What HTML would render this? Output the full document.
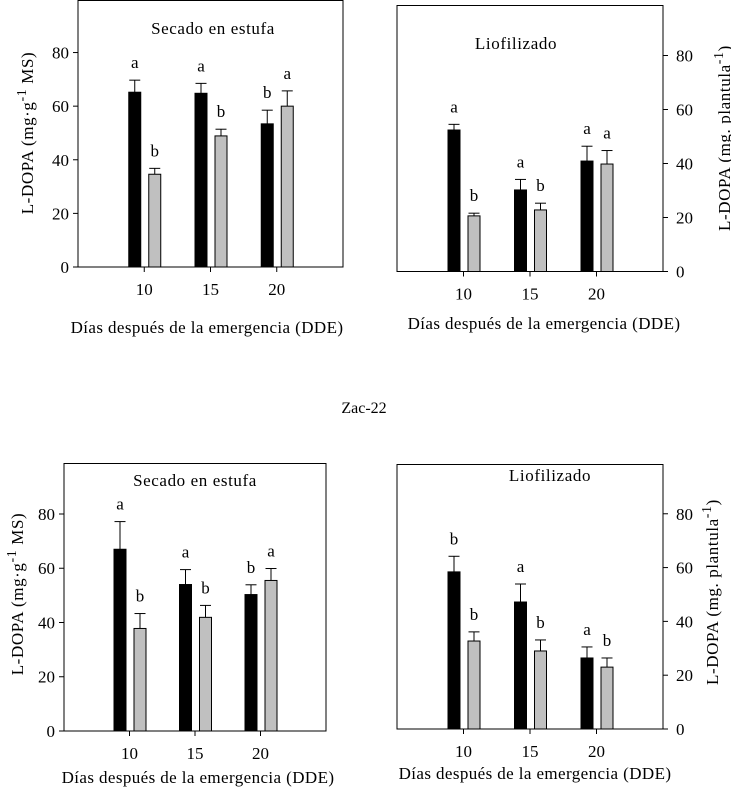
<!DOCTYPE html>
<html><head><meta charset="utf-8"><style>
html,body{margin:0;padding:0;background:#fff;width:731px;height:789px;overflow:hidden}
svg{display:block}
text{font-family:"Liberation Serif",serif;fill:#000}
</style></head><body>
<svg id="chart" width="731" height="789">
<text x="364" y="413" font-size="16" text-anchor="middle">Zac-22</text>
</svg>
<script>
const categories=[10,15,20];
const p1Black=[65.2,64.8,53.4], p1BlackErr=[69.7,68.5,58.5], p1Gray=[34.6,48.9,60.0], p1GrayErr=[36.8,51.4,65.7];
const p1BlackLetters=["a","a","b"], p1GrayLetters=["b","b","a"];
const p2Black=[52.4,30.2,40.9], p2BlackErr=[54.5,34.1,46.4], p2Gray=[20.6,22.8,39.8], p2GrayErr=[21.6,25.3,44.8];
const p2BlackLetters=["a","a","a"], p2GrayLetters=["b","b","a"];
const p3Black=[67.0,54.0,50.3], p3BlackErr=[77.2,59.5,53.9], p3Gray=[37.8,41.9,55.5], p3GrayErr=[43.3,46.3,59.9];
const p3BlackLetters=["a","a","b"], p3GrayLetters=["b","b","a"];
const p4Black=[58.4,47.2,26.4], p4BlackErr=[64.2,53.9,30.5], p4Gray=[32.7,29.0,23.0], p4GrayErr=[36.1,33.1,26.4];
const p4BlackLetters=["b","a","a"], p4GrayLetters=["b","b","b"];
const yTicks=[0,20,40,60,80];

const NS="http://www.w3.org/2000/svg";
const svg=document.getElementById('chart');
function mk(tag,attrs,parent){const e=document.createElementNS(NS,tag);for(const k in attrs)e.setAttribute(k,attrs[k]);(parent||svg).appendChild(e);return e;}

const panels=[
 {id:'p1',l:78,r:343,t:0,b:267,ymax:99.6,right:false,title:'Secado en estufa',tx:213,ty:34,xt:207,xty:333,yl:'L-DOPA (mg·g',ysup:'-1',yend:' MS)',ylx:27,yly:133,black:p1Black,be:p1BlackErr,gray:p1Gray,ge:p1GrayErr,bl:p1BlackLetters,gl:p1GrayLetters},
 {id:'p2',l:397,r:663,t:5,b:271.5,ymax:98.7,right:true,title:'Liofilizado',tx:516,ty:49,xt:544,xty:329,yl:'L-DOPA (mg. plantula',ysup:'-1',yend:')',ylx:724,yly:138,black:p2Black,be:p2BlackErr,gray:p2Gray,ge:p2GrayErr,bl:p2BlackLetters,gl:p2GrayLetters},
 {id:'p3',l:64,r:326,t:463,b:731,ymax:98.8,right:false,title:'Secado en estufa',tx:195,ty:486,xt:198,xty:783,yl:'L-DOPA (mg·g',ysup:'-1',yend:' MS)',ylx:17,yly:594,black:p3Black,be:p3BlackErr,gray:p3Gray,ge:p3GrayErr,bl:p3BlackLetters,gl:p3GrayLetters},
 {id:'p4',l:397,r:663,t:464,b:729,ymax:98.5,right:true,title:'Liofilizado',tx:550,ty:481,xt:535,xty:779,yl:'L-DOPA (mg. plantula',ysup:'-1',yend:')',ylx:712,yly:592,black:p4Black,be:p4BlackErr,gray:p4Gray,ge:p4GrayErr,bl:p4BlackLetters,gl:p4GrayLetters}
];

panels.forEach(P=>{
 const g=mk('g',{});
 
 
 const xs=v=>P.l+(v-5)/20*(P.r-P.l);
 const ys=v=>P.b-v/P.ymax*(P.b-P.t);
 const fr=mk('rect',{x:P.l,y:P.t+0.5,width:P.r-P.l,height:P.b-P.t-0.5,fill:'none',stroke:'#000','stroke-width':1},g);
 
 
 const ax=P.right?P.r:P.l;
 yTicks.forEach(v=>{
  const y=ys(v);
  mk('line',{x1:ax,x2:P.right?ax+5:ax-5,y1:y,y2:y,stroke:'#000'},g);
  const t=mk('text',{x:P.right?ax+13:ax-9,y:y+6,'font-size':17,'text-anchor':P.right?'start':'end'},g);
  t.textContent=v;
  
  
 });
 categories.forEach((c,i)=>{
  const x=xs(c);
  mk('line',{x1:x,x2:x,y1:P.b,y2:P.b+5,stroke:'#000'},g);
  const t=mk('text',{x:x,y:P.b+28,'font-size':17,'text-anchor':'middle'},g);
  t.textContent=c;
  
  
  [[P.black,P.be,P.bl,'#000',-9.5,'black'],[P.gray,P.ge,P.gl,'#c0c0c0',10.5,'gray']].forEach(([vals,errs,lets,col,off,nm])=>{
   const cx=x+off, y=ys(vals[i]), ye=ys(errs[i]);
   mk('line',{x1:cx,x2:cx,y1:ye,y2:y,stroke:'#000'},g);
   mk('line',{x1:cx-5.5,x2:cx+5.5,y1:ye,y2:ye,stroke:'#000'},g);
   const b=mk('rect',{x:cx-6,y:y,width:12,height:P.b-y,fill:col,stroke:'#000','stroke-width':1},g);
   
   
   const lt=mk('text',{x:cx,y:ye-12,'font-size':17,'text-anchor':'middle'},g);
   lt.textContent=lets[i];
   
   
  });
 });
 const tt=mk('text',{x:P.tx,y:P.ty,'font-size':17,'text-anchor':'middle','letter-spacing':'0.6'},g);
 tt.textContent=P.title;
 
 
 const xt=mk('text',{x:P.xt,y:P.xty,'font-size':17,'text-anchor':'middle','letter-spacing':'0.4'},g);
 xt.textContent='Días después de la emergencia (DDE)';
 
 
 const yt=mk('text',{x:0,y:0,'font-size':17,'text-anchor':'middle','letter-spacing':'0.6',transform:'translate('+P.ylx+','+P.yly+') rotate(-90)',dy:'6'},g);
 
 
 const s1=mk('tspan',{},yt);s1.textContent=P.yl;
 const s2=mk('tspan',{dy:-7,'font-size':14},yt);s2.textContent=P.ysup;
 const s3=mk('tspan',{dy:7},yt);s3.textContent=P.yend;
});
</script>
</body></html>
